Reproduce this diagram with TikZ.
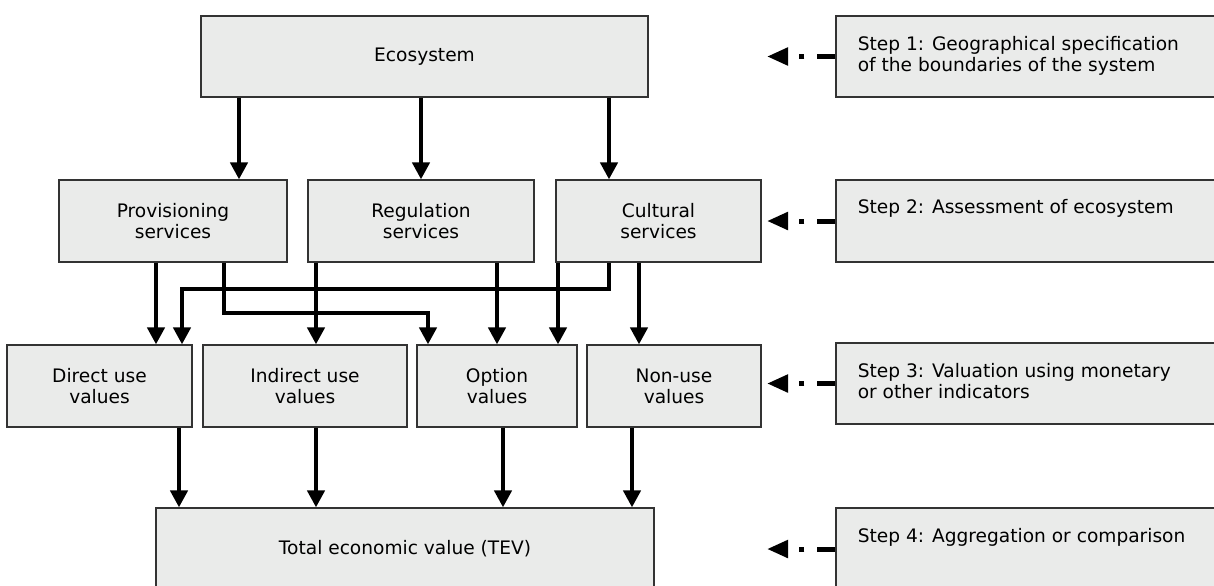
\documentclass[tikz,border=0pt]{standalone}
\usepackage{fontspec}
\setmainfont{DejaVu Sans}
\usetikzlibrary{arrows.meta}
\definecolor{boxgray}{HTML}{EAEBEA}
\definecolor{edgegray}{HTML}{333333}
\tikzset{
  box/.style={draw=edgegray, line width=0.6pt, fill=boxgray, inner sep=0pt, align=center,
    minimum height=41pt, font=\fontsize{9.3}{10.4}\selectfont},
  steptext/.style={anchor=north west, inner sep=0pt, align=left, font=\fontsize{9.3}{10.2}\selectfont},
  flow/.style={line width=2.2pt, -{Triangle[length=8.5pt,width=8.5pt]}},
  stepflow/.style={line width=2.5pt, dash pattern=on 9pt off 6.5pt on 2.5pt off 6pt,
    -{Triangle[length=10.5pt,width=8.5pt]}}
}
\begin{document}
\begin{tikzpicture}[x=0.5pt, y=-0.5pt]
\clip (0,0) rectangle (1214,585);
% left column
\node[box, minimum width=223.5pt, minimum height=40.5pt] (eco) at (424.5,56.5) {Ecosystem};
\node[box, minimum width=114pt] (prov) at (173,221) {Provisioning\\services};
\node[box, minimum width=113pt] (regu) at (421,221) {Regulation\\services};
\node[box, minimum width=102.5pt] (cult) at (658.5,221) {Cultural\\services};
\node[box, minimum width=92.5pt] (direct) at (99.5,386) {Direct use\\values};
\node[box, minimum width=102pt] (indirect) at (305,386) {Indirect use\\values};
\node[box, minimum width=80pt] (option) at (497,386) {Option\\values};
\node[box, minimum width=87pt] (nonuse) at (674,386) {Non-use\\values};
\node[box, minimum width=249pt] (tev) at (405,549) {Total economic value (TEV)};
% step boxes on the right
\node[box, minimum width=193pt, minimum height=40.5pt] (s1) at (1029,56.5) {};
\node[box, minimum width=193pt] (s2) at (1029,221) {};
\node[box, minimum width=193pt, minimum height=40.5pt] (s3) at (1029,383.5) {};
\node[box, minimum width=193pt] (s4) at (1029,549) {};
\node[steptext] (t1) at ([xshift=11pt,yshift=-10.5pt]s1.north west) {Step 1: Geographical specification\\of the boundaries of the system};
\node[steptext] (t2) at ([xshift=11pt,yshift=-10pt]s2.north west) {Step 2: Assessment of ecosystem};
\node[steptext] (t3) at ([xshift=11pt,yshift=-10.5pt]s3.north west) {Step 3: Valuation using monetary\\or other indicators};
\node[steptext] (t4) at ([xshift=11pt,yshift=-10.5pt]s4.north west) {Step 4: Aggregation or comparison};
\coordinate (tip1) at (767,56.5);
\coordinate (tip2) at (767,221);
\coordinate (tip3) at (767,383.5);
\coordinate (tip4) at (767,549);
\foreach \i in {1,...,4}
  \draw[stepflow] (s\i.west) -- (tip\i);
% ecosystem to services
\draw[flow] (eco.south -| 239,0) -- (prov.north -| 239,0);
\draw[flow] (eco.south -| 421,0) -- (regu.north -| 421,0);
\draw[flow] (eco.south -| 609,0) -- (cult.north -| 609,0);
% services to values
\draw[flow] (cult.south -| 609,0) |- (182,289) -- (direct.north -| 182,0);
\draw[flow] (prov.south -| 224,0) |- (428,313) -- (option.north -| 428,0);
\draw[flow] (prov.south -| 156,0) -- (direct.north -| 156,0);
\draw[flow] (regu.south -| 316,0) -- (indirect.north -| 316,0);
\draw[flow] (regu.south -| 497,0) -- (option.north -| 497,0);
\draw[flow] (cult.south -| 558,0) -- (option.north -| 558,0);
\draw[flow] (cult.south -| 639,0) -- (nonuse.north -| 639,0);
% values to TEV
\draw[flow] (direct.south -| 179,0) -- (tev.north -| 179,0);
\draw[flow] (indirect.south -| 316,0) -- (tev.north -| 316,0);
\draw[flow] (option.south -| 503,0) -- (tev.north -| 503,0);
\draw[flow] (nonuse.south -| 632,0) -- (tev.north -| 632,0);
\end{tikzpicture}
\end{document}
